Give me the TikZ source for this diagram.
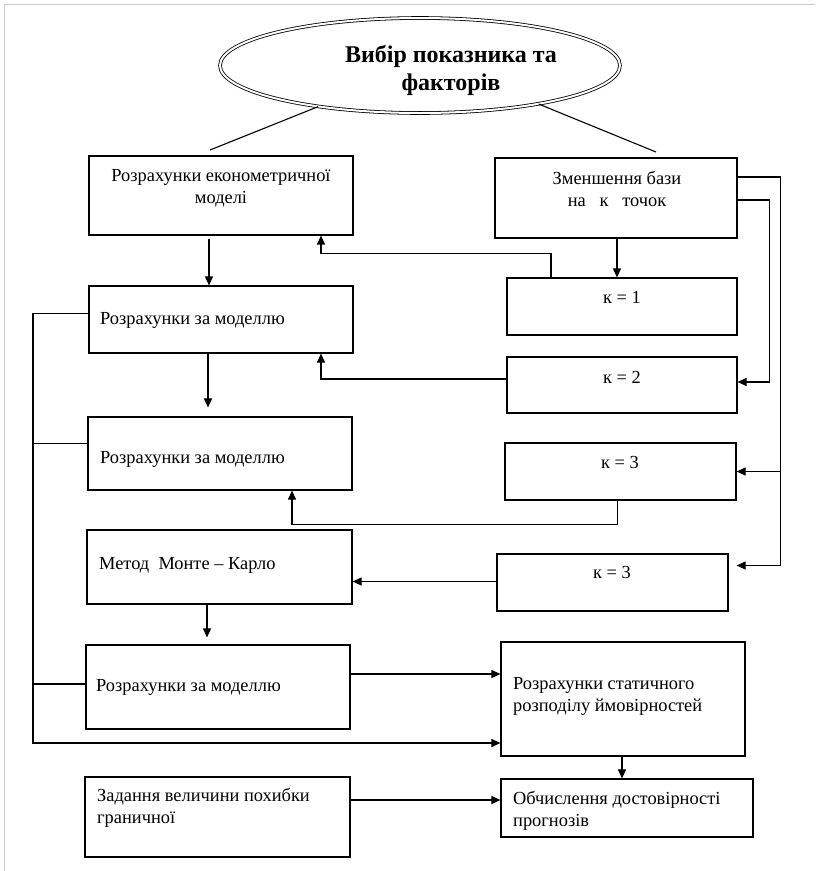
\documentclass[tikz,border=0pt]{standalone}
\usepackage{fontspec}
\setmainfont{Liberation Serif}
\usetikzlibrary{arrows.meta,shapes.geometric,calc}
\begin{document}
\begin{tikzpicture}[x=1pt,y=-1pt,
  box/.style={draw, line width=1.2pt, inner sep=0pt},
  txt/.style={font=\fontsize{18.4}{22}\selectfont, inner sep=0pt, anchor=base west, align=left},
  ctxt/.style={font=\fontsize{18.4}{22}\selectfont, inner sep=0pt, anchor=base, align=center},
  conn/.style={line width=1.1pt},
  arr/.style={conn, -{Triangle[length=9pt,width=8pt]}}]
\useasboundingbox (0,0) rectangle (815,871);
% page frame
\draw[gray!40, line width=1pt] (4,871) -- (4,4) -- (815,4);
% title
\node[ellipse, draw, double, double distance=2pt, line width=0.8pt, minimum width=400pt, minimum height=95pt, inner sep=0pt] (ell) at (420,65.5) {};
\node[font=\bfseries\fontsize{24}{28}\selectfont, inner sep=0pt, anchor=base, align=center] (title) at (451,90) {Вибір показника та\\факторів};
% boxes
\node[box, minimum width=264pt, minimum height=79pt] (econ) at (221,195.5) {};
\node[box, minimum width=264pt, minimum height=67pt] (m1) at (221,319.5) {};
\node[box, minimum width=264pt, minimum height=73pt] (m2) at (220,453.5) {};
\node[box, minimum width=265pt, minimum height=74pt] (mc) at (219.5,567) {};
\node[box, minimum width=264pt, minimum height=84pt] (m3) at (218,687) {};
\node[box, minimum width=265pt, minimum height=80pt] (zad) at (217.5,817) {};
\node[box, minimum width=242pt, minimum height=80pt] (zm) at (616,198) {};
\node[box, minimum width=230pt, minimum height=57pt] (k1) at (622,306.5) {};
\node[box, minimum width=230pt, minimum height=56pt] (k2) at (622,385) {};
\node[box, minimum width=231pt, minimum height=57pt] (k3a) at (620.5,471.5) {};
\node[box, minimum width=231pt, minimum height=57pt] (k3b) at (612.5,582.5) {};
\node[box, minimum width=244pt, minimum height=114pt] (stat) at (623,699) {};
\node[box, minimum width=252pt, minimum height=58pt] (obch) at (627,808) {};
% texts
\node[ctxt] (t-econ) at (221,203) {Розрахунки економетричної\\моделі};
\node[txt] (t-m1) at (100,324) {Розрахунки за моделлю};
\node[txt] (t-m2) at (100,463) {Розрахунки за моделлю};
\node[txt] (t-mc) at (99,569) {Метод\ \ Монте – Карло};
\node[txt] (t-m3) at (96,691) {Розрахунки за моделлю};
\node[txt] (t-zad) at (97,823) {Задання величини похибки\\граничної};
\node[ctxt] (t-zm) at (617,206) {Зменшення бази\\на\ \ \ к\ \ \ точок};
\node[ctxt] (t-k1) at (622,303) {к = 1};
\node[ctxt] (t-k2) at (622,383) {к = 2};
\node[ctxt] (t-k3a) at (620,468) {к = 3};
\node[ctxt] (t-k3b) at (612,578) {к = 3};
\node[txt] (t-stat) at (513,711) {Розрахунки статичного\\розподілу ймовірностей};
\node[txt] (t-obch) at (513,826) {Обчислення достовірності\\прогнозів};
% connectors from the ellipse
\coordinate (eL) at (210,150);
\coordinate (eR) at (656,152);
\draw[conn] (ell.202) -- (eL);
\draw[conn] (ell.342) -- (eR);
% vertical flow on the left
\draw[arr] ([xshift=-12pt,yshift=-3pt]econ.south) -- ([xshift=-12pt]m1.north);
\draw[arr] ([xshift=-13pt]m1.south) -- ([xshift=-12pt,yshift=9pt]m2.north);
\draw[arr] ([xshift=-12.5pt]mc.south) -- ([xshift=-11pt,yshift=7pt]m3.north);
% right column
\draw[arr] ([xshift=1pt]zm.south) -- ([xshift=-5pt]k1.north);
\draw[arr] ([xshift=-71pt]k1.north) -- ++(0,-24) -| ([xshift=100pt]econ.south);
\draw[arr] ([yshift=6pt]k2.west) -| ([xshift=100pt]m1.south);
\draw[arr] ([xshift=-3pt]k3a.south) -- ++(0,24) -| ([xshift=72pt]m2.south);
\draw[arr] ([yshift=1pt]k3b.west) -- ([yshift=1pt]k3b.west -| mc.east);
\draw[arr] ([yshift=-2pt]zm.east) -- ++(32,0) |- ([yshift=3pt]k2.east);
\draw[arr] ([yshift=21pt]zm.east) -- ++(43,0) |- ([xshift=8pt,yshift=17pt]k3b.east);
\draw[arr] ([xshift=43pt]zm.east |- k3a.east) -- (k3a.east);
% left bus
\coordinate (bus) at (33,743);
\draw[arr] ([yshift=6pt]m1.west) -| (bus) -- (bus -| stat.west);
\draw[conn] ([yshift=10pt]m2.west) -- ([yshift=10pt]m2.west -| bus);
\draw[conn] ([yshift=3pt]m3.west) -- ([yshift=3pt]m3.west -| bus);
% bottom part
\draw[arr] ([yshift=13pt]m3.east) -- ([yshift=13pt]m3.east -| stat.west);
\draw[arr] ([xshift=-1pt]stat.south) -- ([xshift=-1pt]stat.south |- obch.north);
\draw[arr] ([yshift=17pt]zad.east) -- ([yshift=17pt]zad.east -| obch.west);
\end{tikzpicture}
\end{document}
